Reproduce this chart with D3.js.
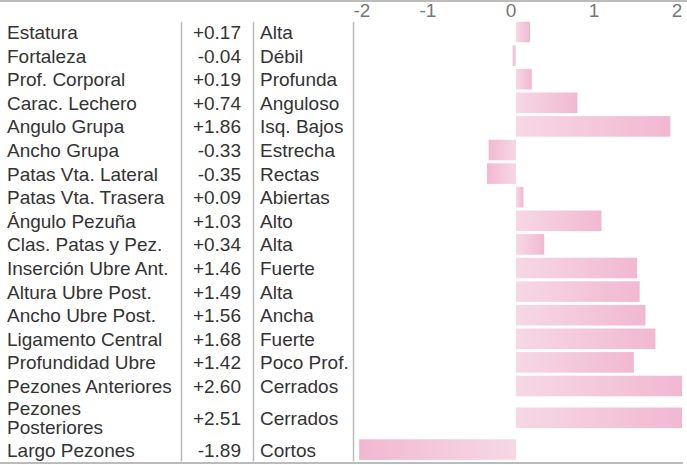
<!DOCTYPE html>
<html>
<head>
<meta charset="utf-8">
<script src="https://cdn.jsdelivr.net/npm/d3@7"></script>
<style>
  body { margin: 0; background: #fff; }
  svg { font-family: "Liberation Sans", Arial, sans-serif; }
</style>
</head>
<body>
<div id="chart"></div>
<script>
const traits = ['Estatura', 'Fortaleza', 'Prof. Corporal', 'Carac. Lechero', 'Angulo Grupa',
    'Ancho Grupa', 'Patas Vta. Lateral', 'Patas Vta. Trasera', 'Ángulo Pezuña', 'Clas. Patas y Pez.',
    'Inserción Ubre Ant.', 'Altura Ubre Post.', 'Ancho Ubre Post.', 'Ligamento Central',
    'Profundidad Ubre', 'Pezones Anteriores', 'Pezones Posteriores', 'Largo Pezones'];
const values = [0.17, -0.04, 0.19, 0.74, 1.86, -0.33, -0.35, 0.09, 1.03, 0.34,
    1.46, 1.49, 1.56, 1.68, 1.42, 2.60, 2.51, -1.89];
const qualifiers = ['Alta', 'Débil', 'Profunda', 'Anguloso', 'Isq. Bajos', 'Estrecha', 'Rectas',
    'Abiertas', 'Alto', 'Alta', 'Fuerte', 'Alta', 'Ancha', 'Fuerte', 'Poco Prof.', 'Cerrados',
    'Cerrados', 'Cortos'];
const axisTicks = [-2, -1, 0, 1, 2];

const width = 687, height = 465;
const rowH = 23.6, tallH = 40;
const fontSize = '19px';

// row positions: one row is two lines high
const rowTops = [];
let yy = 20.2;
traits.forEach((t, i) => {
    rowTops.push(yy);
    yy += (t === 'Pezones Posteriores') ? tallH : rowH;
});
const rowHeight = (i) => traits[i] === 'Pezones Posteriores' ? tallH : rowH;
const tableBottom = yy;

const x = d3.scaleLinear().domain([-2, 2]).range([350, 682]).clamp(true);

const svg = d3.select('#chart').append('svg')
    .attr('width', width)
    .attr('height', height);

const defs = svg.append('defs');
const gradPos = defs.append('linearGradient').attr('id', 'gradPos');
gradPos.append('stop').attr('offset', '0%').attr('stop-color', '#f6d8e5');
gradPos.append('stop').attr('offset', '100%').attr('stop-color', '#f1b8d1');
const gradNeg = defs.append('linearGradient').attr('id', 'gradNeg');
gradNeg.append('stop').attr('offset', '0%').attr('stop-color', '#f1b8d1');
gradNeg.append('stop').attr('offset', '100%').attr('stop-color', '#f6d8e5');

// borders
svg.append('line')
    .attr('x1', 0).attr('x2', width).attr('y1', 1).attr('y2', 1)
    .attr('stroke', '#bbb').attr('stroke-width', 2);
svg.append('line')
    .attr('x1', 0).attr('x2', 683).attr('y1', tableBottom + 1.5).attr('y2', tableBottom + 1.5)
    .attr('stroke', '#bbb').attr('stroke-width', 2);
[181.5, 253.5, 353.5].forEach(lx => {
    svg.append('line')
        .attr('x1', lx).attr('x2', lx).attr('y1', 22).attr('y2', tableBottom)
        .attr('stroke', '#bbb').attr('stroke-width', 1.5);
});

// top axis labels
svg.selectAll('.tick-label')
    .data(axisTicks)
    .enter()
        .append('text')
        .attr('class', 'tick-label')
        .attr('text-anchor', 'middle')
        .attr('x', d => Math.max(362, x(d) - 5))
        .attr('y', 17)
        .attr('fill', '#777')
        .style('font-size', fontSize)
        .text(d => d);

const rows = svg.selectAll('.row')
    .data(traits)
    .enter()
        .append('g')
        .attr('class', 'row')
        .attr('transform', (d, i) => `translate(0, ${rowTops[i] + rowHeight(i) / 2})`);

rows.append('text')
    .attr('x', 7)
    .attr('fill', '#333')
    .style('font-size', fontSize)
    .each(function (d) {
        const el = d3.select(this);
        if (d === 'Pezones Posteriores') {
            el.append('tspan').attr('x', 7).attr('y', -3).text('Pezones');
            el.append('tspan').attr('x', 7).attr('y', 16).text('Posteriores');
        } else {
            el.attr('y', 7).text(d);
        }
    });

rows.append('text')
    .attr('x', 241)
    .attr('y', 7)
    .attr('text-anchor', 'end')
    .attr('fill', '#333')
    .style('font-size', fontSize)
    .text((d, i) => (values[i] >= 0 ? '+' : '') + values[i].toFixed(2));

rows.append('text')
    .attr('x', 260)
    .attr('y', 7)
    .attr('fill', '#333')
    .style('font-size', fontSize)
    .text((d, i) => qualifiers[i]);

rows.append('rect')
    .attr('x', (d, i) => Math.min(x(0), x(values[i])))
    .attr('y', -10.3)
    .attr('height', 20.6)
    .attr('width', (d, i) => Math.abs(x(values[i]) - x(0)))
    .attr('fill', (d, i) => values[i] >= 0 ? 'url(#gradPos)' : 'url(#gradNeg)');
</script>
</body>
</html>
